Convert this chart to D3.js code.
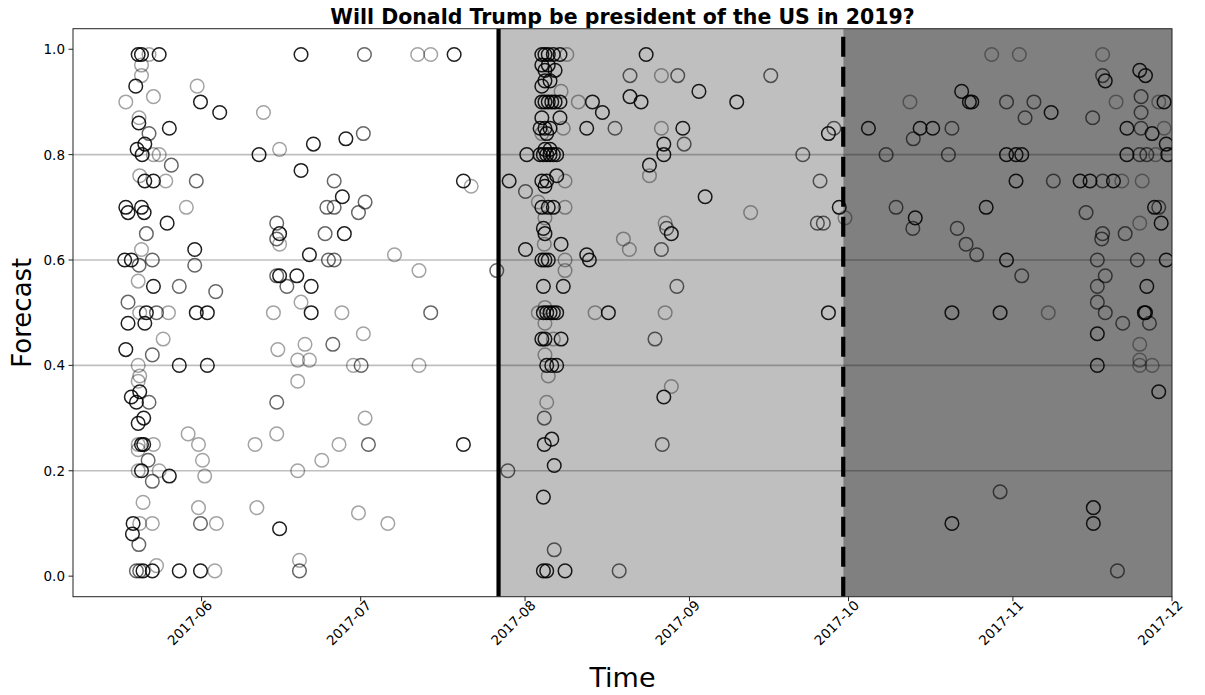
<!DOCTYPE html>
<html>
<head>
<meta charset="utf-8">
<script src="https://cdn.jsdelivr.net/npm/d3@7"></script>
<style>
  body { margin: 0; background: #fff; }
  svg { display: block; }
  text { font-family: "DejaVu Sans", sans-serif; fill: #000; }
</style>
</head>
<body>
<svg id="chart" width="1205" height="695"></svg>
<script>
// ---- chart data -------------------------------------------------------------
const chartTitle = "Will Donald Trump be president of the US in 2019?";
const xLabel = "Time";
const yLabel = "Forecast";
const year = 2017;

const xDomain = ["05-07 18", "12-01 00"];
const yDomain = [-0.039, 1.039];
const xTickDates = ["06-01 00", "07-01 00", "08-01 00", "09-01 00", "10-01 00", "11-01 00", "12-01 00"];
const yTickValues = [0.0, 0.2, 0.4, 0.6, 0.8, 1.0];
const gridValues = [0.2, 0.4, 0.6, 0.8];

// Question phases: open, first announcement, second announcement
const phaseStarts = ["05-07 18", "07-27 00", "09-30 00"];
const phaseEnds = ["07-27 00", "09-30 00", "12-01 00"];
const solidMarker = "07-27 00";
const dashedMarker = "09-30 00";

// Forecasts, split in three forecaster tiers: [time, probability]
const tierA = [
  ["05-20 01",0.99],["05-20 16",0.99],["05-24 00",0.99],["05-19 14",0.93],["05-31 19",0.90],["06-04 10",0.88],
  ["05-20 04",0.86],["05-25 22",0.85],["05-21 07",0.82],["05-19 20",0.81],["05-20 19",0.80],["05-21 07",0.75],
  ["05-22 22",0.75],["05-17 17",0.70],["05-18 03",0.69],["05-20 16",0.70],["05-21 04",0.69],["05-25 12",0.67],
  ["05-30 17",0.62],["05-17 12",0.60],["05-18 18",0.60],["05-22 22",0.55],["05-21 14",0.50],["05-31 00",0.50],
  ["06-02 02",0.50],["05-18 03",0.48],["05-21 07",0.48],["05-17 17",0.43],["05-27 19",0.40],["06-02 02",0.40],
  ["05-20 08",0.35],["05-18 18",0.34],["05-19 17",0.33],["05-21 02",0.30],["05-20 01",0.29],["05-20 16",0.25],
  ["05-21 02",0.25],["05-20 16",0.20],["05-25 22",0.19],["05-19 02",0.10],["05-18 23",0.08],["05-20 23",0.01],
  ["05-22 17",0.01],["05-27 19",0.01],["05-31 19",0.01],
  ["06-19 18",0.99],["07-18 15",0.99],["06-11 20",0.80],["06-22 02",0.82],["06-28 05",0.83],["06-19 18",0.77],
  ["06-27 13",0.72],["07-20 09",0.75],["06-15 17",0.65],["06-27 22",0.65],["06-21 08",0.61],["06-15 17",0.57],
  ["06-18 23",0.57],["06-21 16",0.55],["06-21 16",0.50],["07-20 09",0.25],["06-15 17",0.09],
  ["08-04 04",0.99],["08-04 18",0.99],["08-05 09",0.99],["08-06 08",0.99],["08-07 14",0.99],["08-23 20",0.99],
  ["08-04 04",0.97],["08-05 09",0.97],["08-04 18",0.96],["08-06 16",0.96],["08-04 18",0.94],["08-05 17",0.94],
  ["08-04 04",0.93],["08-04 04",0.90],["08-04 18",0.90],["08-05 09",0.90],["08-06 01",0.90],["08-06 16",0.90],
  ["08-07 14",0.90],["08-13 17",0.90],["08-22 21",0.90],["09-09 22",0.90],["08-20 19",0.91],["08-15 14",0.88],
  ["08-04 04",0.87],["08-07 14",0.87],["08-03 20",0.85],["08-04 18",0.85],["08-05 17",0.85],["08-12 15",0.85],
  ["08-30 18",0.85],["08-05 02",0.84],["08-27 04",0.82],["08-04 18",0.81],["08-05 17",0.81],["08-01 08",0.80],
  ["08-03 20",0.80],["08-04 11",0.80],["08-05 02",0.80],["08-05 17",0.80],["08-06 08",0.80],["08-06 23",0.80],
  ["08-27 04",0.80],["08-24 11",0.78],["08-06 23",0.76],["07-29 00",0.75],["08-04 04",0.75],["08-05 02",0.75],
  ["08-04 18",0.74],["09-03 23",0.72],["09-02 19",0.92],["08-04 04",0.70],["08-05 09",0.70],["08-06 08",0.70],
  ["08-04 11",0.66],["08-04 18",0.65],["08-28 14",0.65],["08-07 19",0.63],["08-01 02",0.62],["08-12 15",0.61],
  ["08-04 04",0.60],["08-04 18",0.60],["08-05 09",0.60],["08-13 03",0.60],["08-04 11",0.55],["08-08 05",0.55],
  ["08-04 11",0.50],["08-05 02",0.50],["08-05 17",0.50],["08-06 08",0.50],["08-06 23",0.50],["08-16 17",0.50],
  ["08-04 04",0.45],["08-04 18",0.45],["08-07 19",0.45],["08-05 02",0.40],["08-06 01",0.40],["08-06 23",0.40],
  ["08-27 04",0.34],["08-06 01",0.26],["08-04 15",0.25],["08-06 12",0.21],["08-04 11",0.15],["08-04 11",0.01],
  ["08-05 02",0.01],["08-08 13",0.01],["09-27 05",0.84],["09-29 06",0.70],["09-27 05",0.50],
  ["10-04 18",0.85],["10-14 12",0.85],["10-16 21",0.85],["11-22 12",0.85],["10-13 14",0.68],["11-24 22",0.96],
  ["11-26 00",0.95],["11-18 10",0.94],["10-22 08",0.92],["10-23 19",0.90],["10-24 06",0.90],["11-29 12",0.90],
  ["11-08 05",0.88],["11-27 06",0.84],["11-29 22",0.82],["10-30 19",0.80],["11-01 14",0.80],["11-02 16",0.80],
  ["11-22 12",0.80],["11-30 05",0.80],["11-01 14",0.75],["11-13 16",0.75],["11-15 13",0.75],["11-19 23",0.75],
  ["10-26 23",0.70],["11-27 17",0.70],["11-28 23",0.67],["10-30 19",0.60],["11-29 22",0.60],["11-26 06",0.55],
  ["10-20 12",0.50],["10-29 14",0.50],["11-25 19",0.50],["11-26 00",0.50],["11-16 22",0.46],["11-16 22",0.40],
  ["11-28 12",0.35],["11-16 04",0.13],["10-20 12",0.10],["11-16 04",0.10]
];

const tierB = [
  ["05-22 02",0.84],["05-26 07",0.78],["05-31 00",0.75],["05-21 14",0.65],["05-20 05",0.59],["05-22 17",0.60],
  ["05-30 17",0.59],["05-27 19",0.55],["06-03 16",0.54],["05-18 03",0.52],["05-23 12",0.50],["05-22 17",0.42],
  ["05-22 02",0.33],["05-21 22",0.22],["05-22 17",0.18],["05-31 19",0.10],["05-20 04",0.06],["05-19 17",0.01],
  ["05-20 08",0.01],
  ["07-01 17",0.99],["07-01 12",0.84],["06-26 00",0.75],["06-24 15",0.70],["06-26 00",0.70],["07-01 20",0.71],
  ["06-30 14",0.69],["06-15 04",0.67],["06-15 04",0.64],["06-24 07",0.65],["06-24 22",0.60],["06-26 00",0.60],
  ["07-26 16",0.58],["06-15 04",0.57],["06-17 02",0.55],["07-14 05",0.50],["06-25 18",0.44],["07-01 02",0.40],
  ["06-15 04",0.33],["07-02 11",0.25],["06-19 11",0.01],
  ["08-20 19",0.95],["08-29 19",0.95],["09-16 08",0.95],["08-17 23",0.85],["09-28 06",0.85],["08-31 00",0.82],
  ["08-27 17",0.66],["08-26 17",0.62],["08-29 15",0.55],["08-25 12",0.45],["08-04 15",0.30],["08-26 21",0.25],
  ["07-28 18",0.20],["08-06 12",0.05],["08-18 18",0.01],["09-22 09",0.80],["09-25 15",0.75],["09-25 03",0.67],
  ["09-26 06",0.67],["08-01 02",0.73],
  ["11-17 22",0.95],["11-25 04",0.91],["10-30 19",0.90],["11-04 23",0.90],["11-25 04",0.88],["11-03 07",0.87],
  ["11-16 01",0.87],["10-20 12",0.85],["11-25 04",0.85],["10-13 05",0.83],["10-08 02",0.80],["10-19 20",0.80],
  ["11-24 22",0.80],["11-26 06",0.80],["11-08 15",0.75],["11-17 22",0.75],["10-09 23",0.70],["11-28 12",0.70],
  ["11-14 19",0.69],["10-13 03",0.66],["10-21 12",0.66],["11-17 22",0.65],["11-22 04",0.65],["11-17 18",0.64],
  ["10-23 04",0.63],["10-25 04",0.61],["11-16 22",0.60],["11-24 11",0.60],["11-02 16",0.57],["11-18 10",0.57],
  ["11-16 22",0.55],["11-16 22",0.52],["11-18 10",0.50],["11-21 17",0.48],["11-26 18",0.48],["10-29 14",0.16],
  ["11-20 17",0.01]
];

const tierC = [
  ["05-22 02",0.99],["05-20 16",0.97],["05-20 16",0.95],["05-31 04",0.93],["05-17 17",0.90],["05-22 22",0.91],
  ["05-20 05",0.87],["05-22 22",0.80],["05-24 00",0.80],["05-20 08",0.76],["05-25 06",0.75],["05-29 03",0.70],
  ["05-20 16",0.62],["05-20 01",0.56],["05-20 08",0.50],["05-25 18",0.50],["05-24 18",0.45],["05-20 01",0.40],
  ["05-20 08",0.38],["05-20 01",0.37],["05-29 11",0.27],["05-31 10",0.25],["05-20 01",0.25],["05-22 22",0.25],
  ["05-20 01",0.24],["06-01 04",0.22],["06-01 14",0.19],["05-20 01",0.20],["05-24 00",0.20],["05-20 23",0.14],
  ["05-31 10",0.13],["05-20 08",0.10],["05-22 17",0.10],["06-03 19",0.10],["05-23 12",0.02],["06-03 12",0.01],
  ["07-11 18",0.99],["07-14 05",0.99],["06-12 16",0.88],["06-15 17",0.81],["07-21 20",0.74],["06-15 17",0.63],
  ["07-07 09",0.61],["07-12 00",0.58],["06-19 18",0.52],["06-14 13",0.50],["06-27 11",0.50],["07-01 12",0.46],
  ["06-15 09",0.43],["06-20 12",0.44],["06-19 03",0.41],["06-21 08",0.41],["06-29 15",0.40],["07-12 00",0.40],
  ["06-19 03",0.37],["07-01 20",0.30],["06-11 02",0.25],["06-15 04",0.27],["06-26 22",0.25],["06-23 16",0.22],
  ["06-19 03",0.20],["06-11 10",0.13],["06-30 14",0.12],["07-06 03",0.10],["06-19 11",0.03],
  ["08-08 21",0.99],["08-26 17",0.95],["08-07 19",0.92],["08-11 01",0.90],["08-08 05",0.85],["08-26 17",0.85],
  ["08-04 04",0.84],["08-24 11",0.76],["08-08 13",0.75],["08-03 12",0.71],["08-08 13",0.70],["08-04 18",0.68],
  ["08-27 10",0.67],["08-19 13",0.64],["08-04 15",0.63],["08-20 16",0.62],["08-08 13",0.60],["08-08 13",0.58],
  ["08-04 18",0.51],["08-03 12",0.50],["08-14 05",0.50],["08-27 10",0.50],["08-04 18",0.48],["08-06 08",0.45],
  ["08-04 18",0.42],["08-05 09",0.38],["08-28 14",0.36],["08-05 02",0.33],["09-12 13",0.69],["09-30 08",0.68],
  ["10-28 00",0.99],["11-02 05",0.99],["11-17 22",0.99],["10-12 14",0.90],["11-20 11",0.90],["11-28 12",0.90],
  ["11-29 12",0.85],["11-27 22",0.80],["11-21 13",0.75],["11-25 09",0.75],["11-24 22",0.67],["11-07 16",0.50],
  ["11-24 22",0.44],["11-24 22",0.41],["11-24 22",0.40],["11-27 06",0.40]
];

// ---- drawing ----------------------------------------------------------------
const parseTime = d3.timeParse("%Y-%m-%d %H");
const t = s => parseTime(`${year}-${s.slice(0, 2)}-${s.slice(3, 5)} ${s.slice(6)}`);

const svg = d3.select("#chart");
const plot = { left: 73, right: 1172, top: 28.7, bottom: 596.7 };

const x = d3.scaleTime().domain(xDomain.map(t)).range([plot.left, plot.right]);
const y = d3.scaleLinear().domain(yDomain).range([plot.bottom, plot.top]);

const phaseFills = ["#ffffff", "#bfbfbf", "#808080"];
const tierOpacity = { A: 0.88, B: 0.6, C: 0.36 };

svg.append("defs").append("clipPath").attr("id", "plot-clip")
  .append("rect")
  .attr("x", plot.left).attr("y", plot.top)
  .attr("width", plot.right - plot.left).attr("height", plot.bottom - plot.top);

const inner = svg.append("g").attr("clip-path", "url(#plot-clip)");

// shaded phases
inner.selectAll("rect.phase")
  .data(phaseStarts.map((s, i) => ({ s: t(s), e: t(phaseEnds[i]), fill: phaseFills[i] })))
  .join("rect")
  .attr("class", "phase")
  .attr("x", d => x(d.s))
  .attr("width", d => x(d.e) - x(d.s))
  .attr("y", plot.top)
  .attr("height", plot.bottom - plot.top)
  .attr("fill", d => d.fill);

// horizontal reference lines
inner.selectAll("line.grid")
  .data(gridValues)
  .join("line")
  .attr("class", "grid")
  .attr("x1", plot.left).attr("x2", plot.right)
  .attr("y1", d => y(d)).attr("y2", d => y(d))
  .attr("stroke", "#000")
  .attr("stroke-opacity", 0.25)
  .attr("stroke-width", 1.6);

// forecasts as open circles
const tiers = [["C", tierC], ["B", tierB], ["A", tierA]];
tiers.forEach(([key, rows]) => {
  inner.append("g")
    .selectAll("circle")
    .data(rows)
    .join("circle")
    .attr("cx", d => x(t(d[0])))
    .attr("cy", d => y(d[1]))
    .attr("r", 6.8)
    .attr("fill", "none")
    .attr("stroke", "#000")
    .attr("stroke-opacity", tierOpacity[key])
    .attr("stroke-width", 1.5);
});

// phase markers
inner.append("line")
  .attr("x1", x(t(solidMarker))).attr("x2", x(t(solidMarker)))
  .attr("y1", plot.top).attr("y2", plot.bottom)
  .attr("stroke", "#000").attr("stroke-width", 4.2);

inner.append("line")
  .attr("x1", x(t(dashedMarker))).attr("x2", x(t(dashedMarker)))
  .attr("y1", plot.bottom).attr("y2", plot.top)
  .attr("stroke", "#000").attr("stroke-width", 4.2)
  .attr("stroke-dasharray", "20,10");

// frame
svg.append("rect")
  .attr("x", plot.left).attr("y", plot.top)
  .attr("width", plot.right - plot.left).attr("height", plot.bottom - plot.top)
  .attr("fill", "none").attr("stroke", "#222").attr("stroke-width", 1);

// y axis
const yAxis = svg.append("g");
yTickValues.forEach(v => {
  yAxis.append("line")
    .attr("x1", plot.left - 4.5).attr("x2", plot.left)
    .attr("y1", y(v)).attr("y2", y(v))
    .attr("stroke", "#222").attr("stroke-width", 1);
  yAxis.append("text")
    .attr("x", plot.left - 8).attr("y", y(v))
    .attr("text-anchor", "end").attr("dominant-baseline", "central")
    .attr("font-size", 13.5)
    .text(d3.format(".1f")(v));
});

// x axis with rotated date labels
const xAxis = svg.append("g");
const fmt = d3.timeFormat("%Y-%m");
xTickDates.map(t).forEach(d => {
  const px = x(d);
  xAxis.append("line")
    .attr("x1", px).attr("x2", px)
    .attr("y1", plot.bottom).attr("y2", plot.bottom + 4.5)
    .attr("stroke", "#222").attr("stroke-width", 1);
  xAxis.append("text")
    .attr("transform", `translate(${px - 12},${plot.bottom + 26}) rotate(-45)`)
    .attr("text-anchor", "middle").attr("dominant-baseline", "central")
    .attr("font-size", 13.5)
    .text(fmt(d));
});

// labels and title
svg.append("text")
  .attr("x", (plot.left + plot.right) / 2).attr("y", 687)
  .attr("text-anchor", "middle").attr("font-size", 27)
  .text(xLabel);

svg.append("text")
  .attr("transform", `translate(31,${(plot.top + plot.bottom) / 2}) rotate(-90)`)
  .attr("text-anchor", "middle").attr("font-size", 26)
  .text(yLabel);

svg.append("text")
  .attr("x", (plot.left + plot.right) / 2).attr("y", 24)
  .attr("text-anchor", "middle").attr("font-size", 20.5).attr("font-weight", "bold")
  .text(chartTitle);
</script>
</body>
</html>
